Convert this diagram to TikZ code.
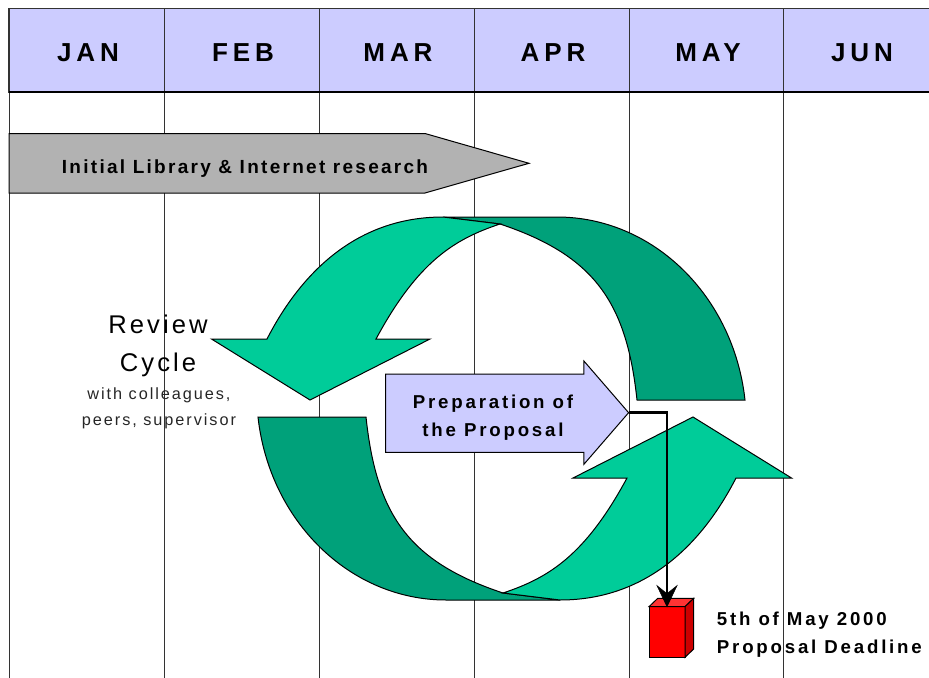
\documentclass[tikz,border=0pt]{standalone}
\usepackage{fontspec}
\setmainfont{Liberation Sans}
\newfontfamily\monthfont[LetterSpace=19]{Liberation Sans}
\newfontfamily\labelfont[LetterSpace=15]{Liberation Sans}
\newfontfamily\notefont[LetterSpace=12]{Liberation Sans}
\definecolor{headerblue}{RGB}{204,204,255}
\definecolor{frontgreen}{RGB}{0,204,153}
\definecolor{backgreen}{RGB}{0,161,122}
\definecolor{bargray}{RGB}{178,178,178}

\begin{document}
\begin{tikzpicture}[x=0.75pt,y=0.75pt,yscale=-1,xscale=1,
  month/.style={font=\monthfont\bfseries\fontsize{19.5}{23}\selectfont, inner sep=0pt},
  bold label/.style={font=\labelfont\bfseries\fontsize{14}{21}\selectfont, inner sep=0pt, align=center},
  grid line/.style={draw=black!80, line width=0.7}]
\useasboundingbox (0,0) rectangle (929,678);
\clip (0,0) rectangle (929,678);

%Shape: Rectangle [month header]
\draw [fill=headerblue, draw=black!80, line width=0.9] (9,8.5) rectangle (938,92) ;
%Straight Lines [month borders]
\draw [grid line] (9,8.5) -- (9,678) ;
\draw [grid line] (164,8.5) -- (164,678) ;
\draw [grid line] (319,8.5) -- (319,678) ;
\draw [grid line] (474,8.5) -- (474,678) ;
\draw [grid line] (629,8.5) -- (629,678) ;
\draw [grid line] (783,8.5) -- (783,678) ;
%Straight Lines [header base]
\draw [line width=2] (9,92) -- (938,92) ;

% Text Node
\draw (88,52.8) node [month] (jan) {JAN};
% Text Node
\draw (243,52.8) node [month] (feb) {FEB};
% Text Node
\draw (398,52.8) node [month] (mar) {MAR};
% Text Node
\draw (553,52.8) node [month] (apr) {APR};
% Text Node
\draw (708,52.8) node [month] (may) {MAY};
% Text Node
\draw (862,52.8) node [month] (jun) {JUN};

%Shape: Right Arrow [research]
\draw [fill=bargray, line width=0.75] (9,133.5) -- (425,133.5) -- (529,163.3) -- (425,193) -- (9,193) -- cycle ;
% Text Node
\draw (245,168.4) node [font=\notefont\bfseries\fontsize{14.25}{17}\selectfont, inner sep=0pt] (research) {Initial Library \& Internet research};

%Shape: Curved Arrow [upper, back]
\draw [fill=backgreen, line width=0.75] (443,217) -- (557,217) .. controls (652.6,217) and (733.5,295.5) .. (745,400) -- (637,400) .. controls (626.6,302) and (594.2,255.4) .. (500,224) -- cycle ;
%Shape: Curved Arrow [upper, front]
\draw [fill=frontgreen, line width=0.75] (443,217) -- (500,224) .. controls (454.6,239.1) and (417.9,261.3) .. (376,339) -- (430,339) -- (310,400) -- (211.5,339) -- (267,339) .. controls (298.5,277.6) and (353,217) .. (443,217) -- cycle ;
%Shape: Curved Arrow [lower, back]
\draw [fill=backgreen, line width=0.75] (560,600) -- (446,600) .. controls (350.4,600) and (269.5,521.5) .. (258,417) -- (366,417) .. controls (376.4,515) and (408.8,561.6) .. (503,593) -- cycle ;
%Shape: Curved Arrow [lower, front]
\draw [fill=frontgreen, line width=0.75] (560,600) -- (503,593) .. controls (548.4,577.9) and (585.1,555.7) .. (627,478) -- (573,478) -- (693,417) -- (791.5,478) -- (736,478) .. controls (704.5,539.4) and (650,600) .. (560,600) -- cycle ;

% Text Node
\draw (158,345.7) node [font=\notefont\fontsize{19.2}{28.3}\selectfont, inner sep=0pt, align=center] (review) {Review\\Cycle};
% Text Node
\draw (159,407.8) node [font=\notefont\fontsize{12.2}{19.5}\selectfont, text=black!85, inner sep=0pt, align=center] (reviewnote) {with colleagues,\\peers, supervisor};

%Shape: Right Arrow [preparation]
\draw [fill=headerblue, line width=0.75] (385.6,374) -- (583.9,374) -- (583.9,361) -- (628.6,412.7) -- (583.9,464.3) -- (583.9,452.3) -- (385.6,452.3) -- cycle ;
\coordinate (preptip) at (628.6,412.7) ;
% Text Node
\draw (493,417.6) node [bold label] (prep) {Preparation of\\the Proposal};

%Shape: Cube [deadline]
\draw (667,632) node [draw, fill=red, line width=0.75, minimum width=27pt, minimum height=38pt, inner sep=0pt, outer sep=0pt] (box) {};
\draw [fill=red!80!white, line width=0.75] (box.north west) -- ++(8.7,-8.3) -- ++(36,0) -- (box.north east) -- cycle ;
\draw [fill=red!80!black, line width=0.75] (box.north east) -- ++(8.7,-8.3) -- ++(0,50.6) -- (box.south east) -- cycle ;

%Straight Lines [to deadline]
\draw [line width=2, shorten >=9] (preptip) -| (box.north) ;
\draw [shift={(box.north)}, fill=black] (0,0) -- (-10,-21) -- (0,-13) -- (10,-21) -- cycle ;

% Text Node
\draw (716.7,634.8) node [bold label, anchor=west, align=left] (deadline) {5th of May 2000\\Proposal Deadline};
\end{tikzpicture}
\end{document}
